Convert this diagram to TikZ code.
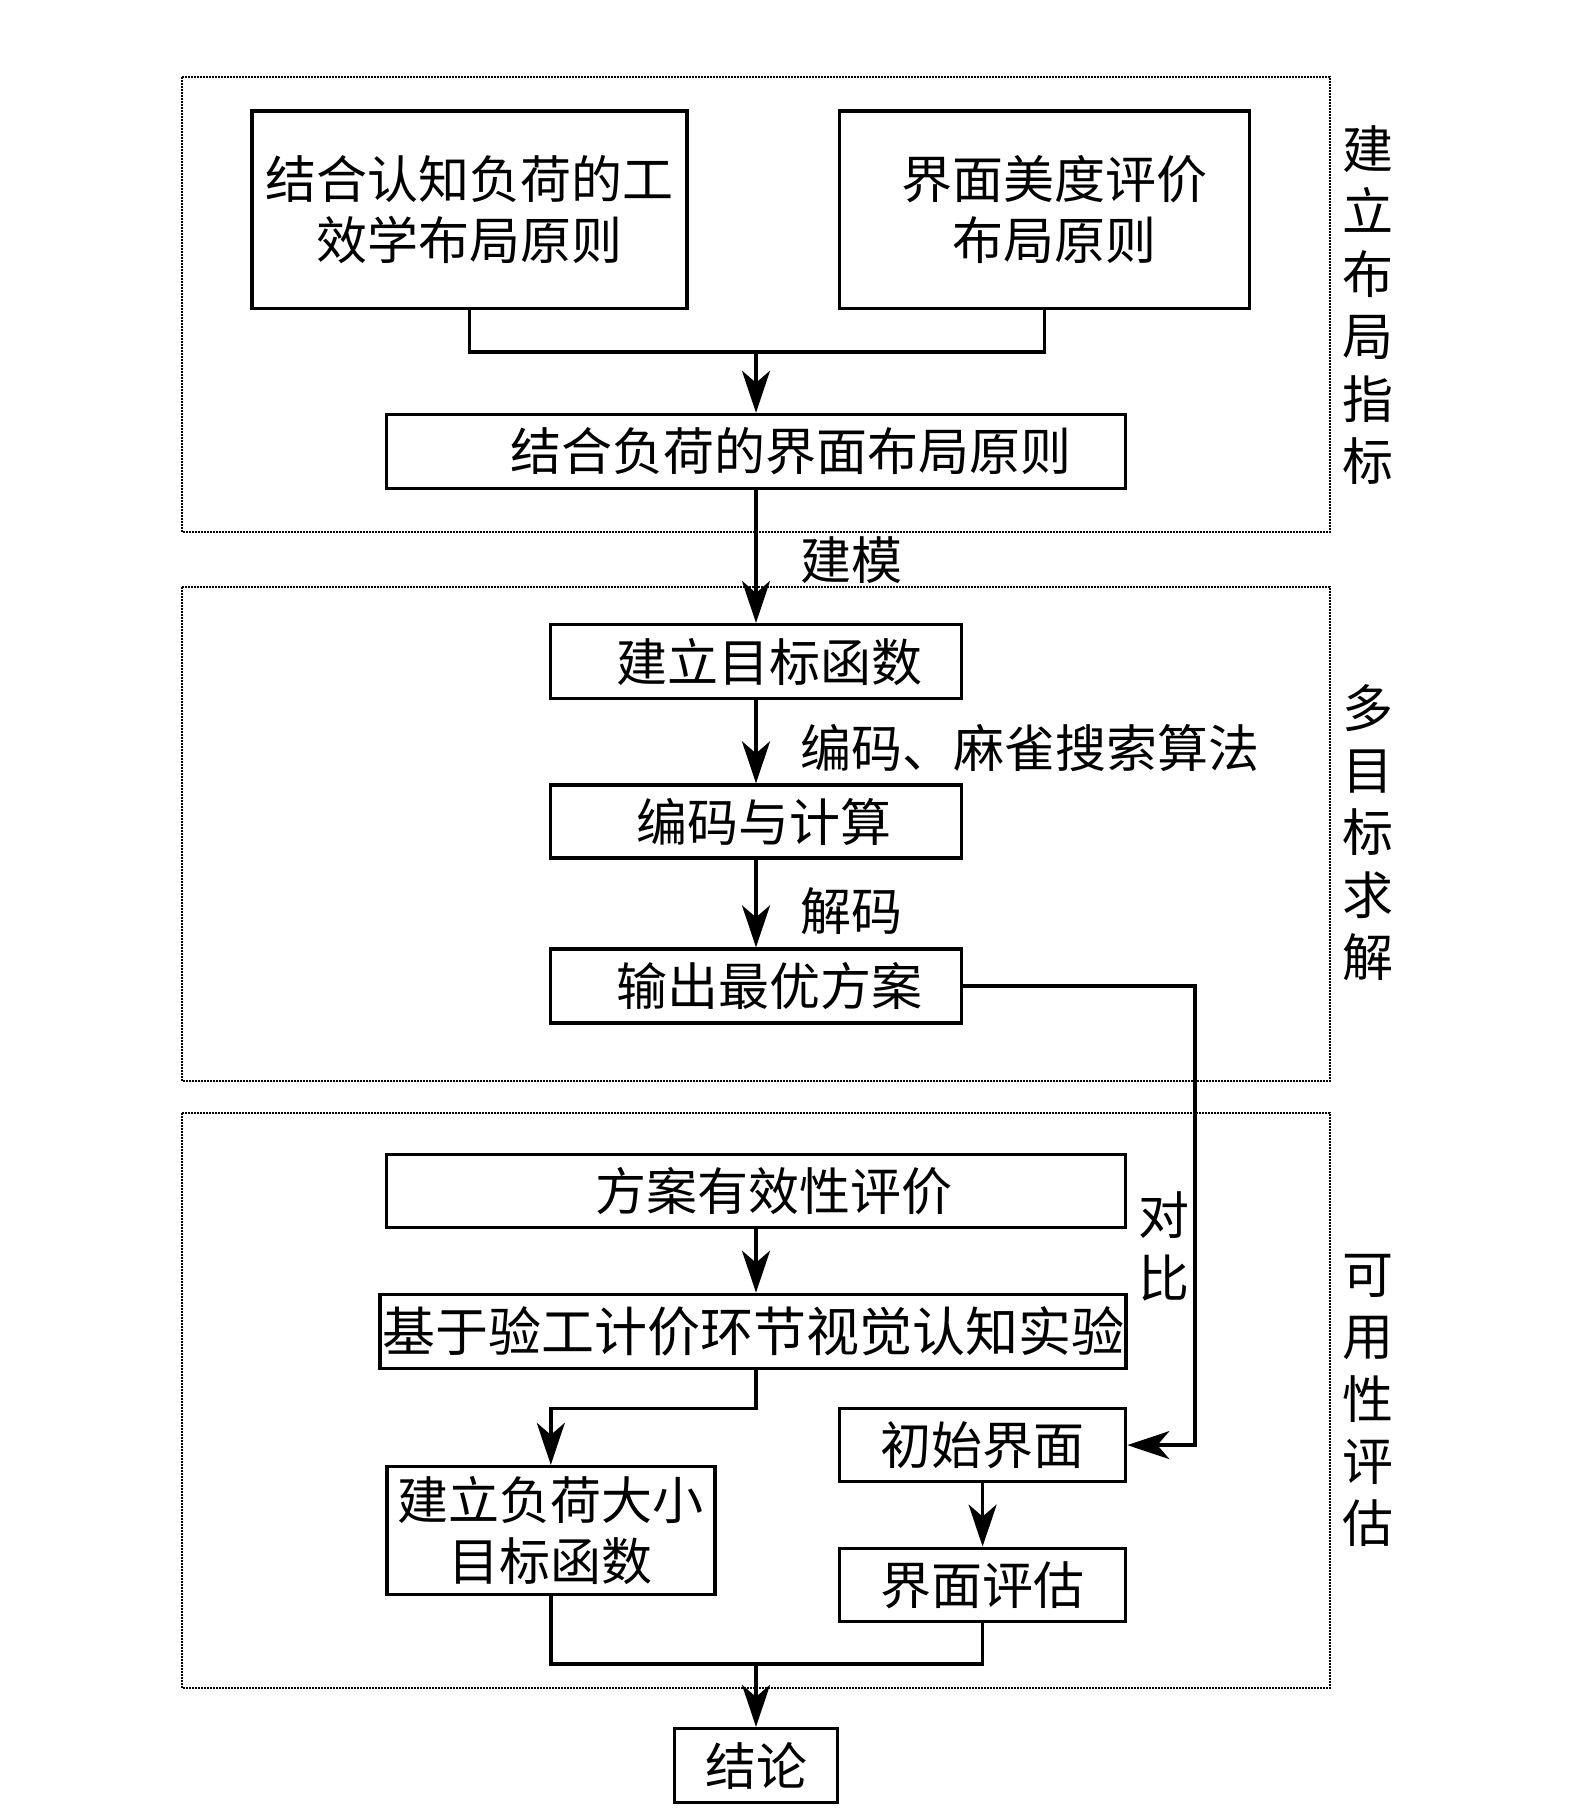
\documentclass[tikz,border=0pt]{standalone}
\usepackage{fontspec}
\setmainfont{Noto Sans CJK SC}
\usetikzlibrary{arrows.meta}
\newcommand\fsnorm{\fontsize{51}{61}\selectfont}
\newcommand\fsbig{\fontsize{53}{61}\selectfont}
\newcommand\fsside{\fontsize{51}{62.4}\selectfont}
\begin{document}
\begin{tikzpicture}[x=1pt,y=-1pt,
  box/.style={draw, line width=3.5pt, inner sep=0pt, align=center, font=\fsnorm},
  frame/.style={draw, line width=2pt, dash pattern=on 2pt off 1pt},
  conn/.style={line width=3.5pt},
  arr/.style={line width=3.5pt, -{Stealth[length=42pt,width=28pt,inset=12pt]}},
  lbl/.style={font=\fsnorm, inner sep=0pt, anchor=west},
  side/.style={font=\fsside, inner sep=0pt, align=center}]
\useasboundingbox (0,0) rectangle (1575,1811);
% frames
\draw[frame] (182,77) rectangle (1330,532);
\draw[frame] (182,587) rectangle (1330,1081);
\draw[frame] (182,1113) rectangle (1330,1688);
% boxes
\node[box, minimum width=435, minimum height=197.5] (b1) at (469.4,209.6) {结合认知负荷的工\\效学布局原则};
\node[box, minimum width=410, minimum height=197.5] (b2) at (1044.5,209.6) {\hspace*{20pt}界面美度评价\\[0pt]\hspace*{20pt}布局原则};
\node[box, minimum width=739, minimum height=74] (b3) at (756,451.5) {\hspace*{70pt}结合负荷的界面布局原则};
\node[box, minimum width=411, minimum height=74] (b4) at (756,661.7) {\hspace*{27pt}建立目标函数};
\node[box, minimum width=411, minimum height=73] (b5) at (756,821.6) {\hspace*{16pt}编码与计算};
\node[box, minimum width=411, minimum height=74] (b6) at (756,986.1) {\hspace*{27pt}输出最优方案};
\node[box, minimum width=739, minimum height=73] (b7) at (756,1191) {\hspace*{35pt}方案有效性评价};
\node[box, font=\fsbig, minimum width=746, minimum height=74] (b8) at (753,1331.4) {基于验工计价环节视觉认知实验};
\node[box, minimum width=328, minimum height=128] (b9) at (550.8,1530.6) {建立负荷大小\\目标函数};
\node[box, minimum width=286, minimum height=73] (b10) at (982.6,1445.1) {初始界面};
\node[box, minimum width=286, minimum height=73] (b11) at (982.6,1584.8) {界面评估};
\node[box, minimum width=163, minimum height=74] (b12) at (756,1765.6) {结论};
% junction coordinates
\coordinate (j1) at (756,352);
\coordinate (c1) at (1195,986.1);
\coordinate (j2) at (756,1408.7);
\coordinate (j3) at (756,1664);
% connectors
\draw[conn] (b1.south) |- (j1) -| (b2.south);
\draw[arr] (j1) -- (b3.north);
\draw[arr] (b3.south) -- (b4.north);
\draw[arr] (b4.south) -- (b5.north);
\draw[arr] (b5.south) -- (b6.north);
\draw[arr] (b6.east) -- (c1) |- (b10.east);
\draw[arr] (b7.south) -- (b7.south |- b8.north);
\draw[arr] (b7.south |- b8.south) -- (j2) -| (b9.north);
\draw[arr] (b10.south) -- (b11.north);
\draw[conn] (b9.south) |- (j3) -| (b11.south);
\draw[arr] (j3) -- (b12.north);
% connector labels
\node[lbl] (l1) at (800,560) {建模};
\node[lbl] (l2) at (800,748) {编码、麻雀搜索算法};
\node[lbl] (l3) at (800,911) {解码};
\node[side] (l4) at (1164,1246.5) {对\\比};
% side labels
\node[side] (s1) at (1368,305) {建\\立\\布\\局\\指\\标};
\node[side] (s2) at (1368,832.5) {多\\目\\标\\求\\解};
\node[side] (s3) at (1368,1400.6) {可\\用\\性\\评\\估};
\end{tikzpicture}
\end{document}
